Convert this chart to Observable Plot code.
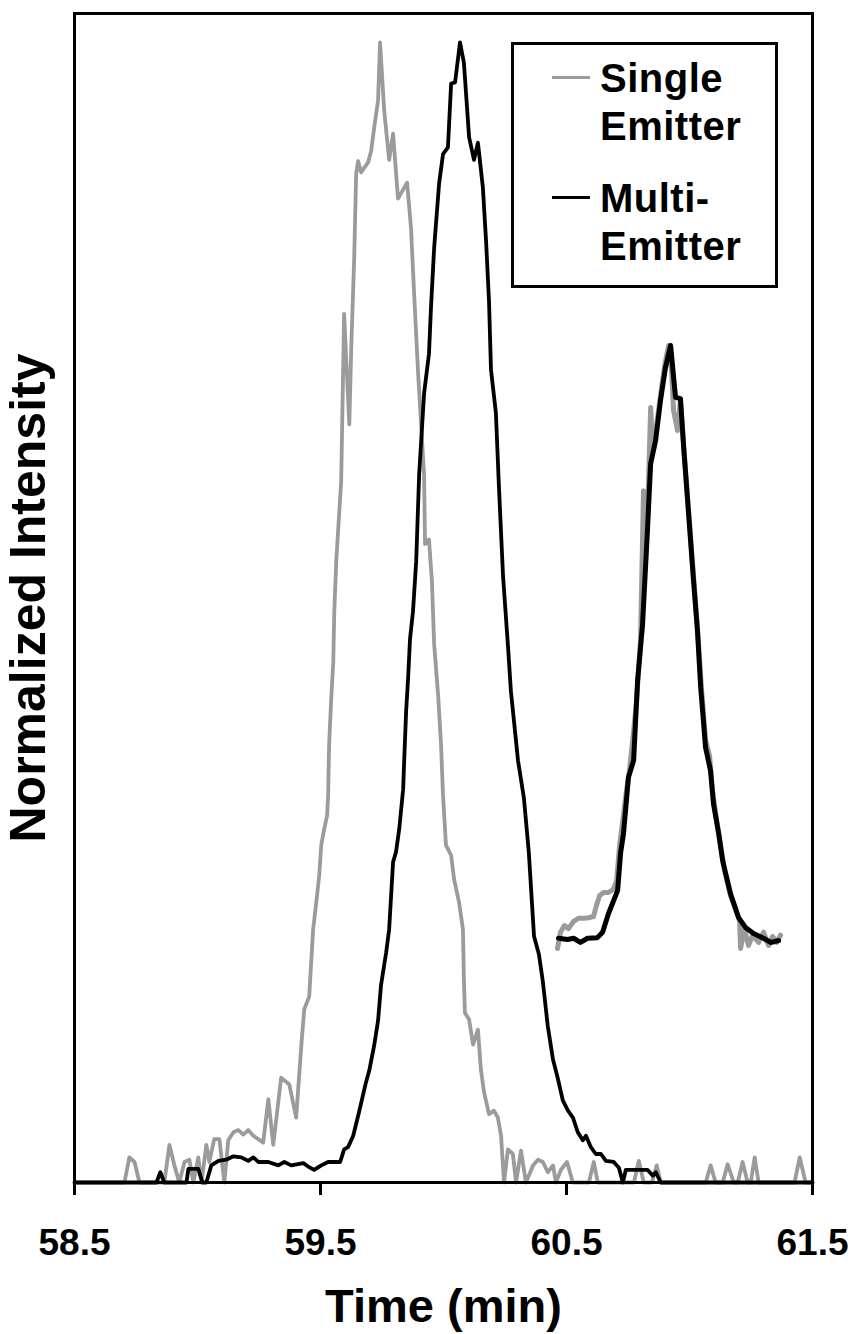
<!DOCTYPE html>
<html>
<head>
<meta charset="utf-8">
<script src="https://cdn.jsdelivr.net/npm/d3@7"></script>
<script src="https://cdn.jsdelivr.net/npm/@observablehq/plot@0.6"></script>
<style>
  body { margin: 0; background: #fff; }
  #chart {
    position: relative; width: 855px; height: 1334px;
    font-family: "Liberation Sans", Arial, sans-serif; font-weight: bold; color: #000;
  }
  #chart svg { position: absolute; }
  #legend {
    position: absolute; left: 511px; top: 42px; width: 261px; height: 240px;
    border: 3px solid #000; background: #fff;
  }
  .entry { position: absolute; left: 38px; display: flex; align-items: flex-start; }
  .swatch { width: 38px; height: 3px; margin-top: 22px; flex: none; }
  .entry-text { margin-left: 10px; font-size: 40px; line-height: 48px; letter-spacing: 0.5px; }
</style>
</head>
<body>
<div id="chart"></div>
<script>
// Chromatogram time (min) and normalized intensity for each ion source
const singleEmitter = [
  [58.500,0],[58.703,0],[58.723,0.022],[58.744,0.018],[58.764,0],[58.865,0],[58.886,0.033],
  [58.906,0.015],[58.926,0],[58.947,0.018],[58.967,0.020],[58.983,0],[59.003,0.022],[59.016,0],
  [59.036,0.033],[59.048,0.018],[59.068,0.038],[59.089,0.038],[59.109,0],[59.125,0.037],
  [59.146,0.044],[59.166,0.046],[59.186,0.042],[59.206,0.046],[59.227,0.041],[59.247,0.038],
  [59.267,0.035],[59.288,0.073],[59.308,0.033],[59.340,0.092],[59.373,0.086],[59.401,0.057],
  [59.422,0.120],[59.434,0.152],[59.454,0.163],[59.470,0.222],[59.483,0.246],[59.495,0.270],
  [59.503,0.296],[59.515,0.310],[59.527,0.322],[59.531,0.340],[59.535,0.384],[59.543,0.422],
  [59.552,0.457],[59.556,0.501],[59.564,0.545],[59.584,0.615],[59.596,0.762],[59.617,0.665],
  [59.625,0.732],[59.637,0.811],[59.645,0.885],[59.653,0.896],[59.665,0.886],[59.694,0.895],
  [59.706,0.905],[59.718,0.925],[59.734,0.949],[59.742,1.000],[59.759,0.940],[59.779,0.897],
  [59.795,0.920],[59.815,0.863],[59.852,0.877],[59.868,0.837],[59.880,0.782],[59.897,0.709],
  [59.909,0.665],[59.921,0.621],[59.925,0.560],[59.941,0.564],[59.953,0.527],[59.962,0.472],
  [59.978,0.428],[59.990,0.384],[59.998,0.340],[60.010,0.296],[60.031,0.287],[60.043,0.266],
  [60.063,0.246],[60.079,0.222],[60.083,0.178],[60.087,0.149],[60.104,0.143],[60.120,0.121],
  [60.132,0.129],[60.140,0.134],[60.152,0.099],[60.165,0.079],[60.185,0.060],[60.205,0.063],
  [60.221,0.057],[60.234,0.041],[60.246,0],[60.262,0.029],[60.282,0.025],[60.295,0],
  [60.315,0.028],[60.335,0],[60.364,0.015],[60.384,0.020],[60.404,0.018],[60.424,0.009],
  [60.445,0.015],[60.457,0],[60.477,0.011],[60.502,0.018],[60.526,0],[60.591,0],[60.611,0.018],
  [60.627,0],[60.774,0],[60.794,0.019],[60.814,0],[60.847,0],[60.867,0.015],[60.883,0],
  [61.066,0],[61.086,0.015],[61.106,0],[61.135,0],[61.155,0.016],[61.180,0],[61.196,0],
  [61.216,0.018],[61.236,0],[61.249,0],[61.265,0.022],[61.281,0],[61.427,0],[61.448,0.022],
  [61.472,0],[61.500,0]
];

const multiEmitter = [
  [58.500,0],[58.833,0],[58.849,0.009],[58.865,0],[58.955,0],[58.963,0.012],[59.003,0.012],
  [59.020,0],[59.036,0],[59.056,0.015],[59.085,0.019],[59.117,0.020],[59.146,0.023],
  [59.178,0.022],[59.206,0.019],[59.227,0.022],[59.247,0.018],[59.288,0.018],[59.328,0.015],
  [59.353,0.018],[59.381,0.015],[59.430,0.017],[59.450,0.014],[59.474,0.011],[59.503,0.015],
  [59.531,0.018],[59.580,0.018],[59.596,0.029],[59.612,0.031],[59.633,0.041],[59.657,0.062],
  [59.685,0.088],[59.698,0.098],[59.718,0.120],[59.734,0.142],[59.746,0.173],[59.767,0.202],
  [59.779,0.222],[59.795,0.281],[59.807,0.290],[59.820,0.310],[59.836,0.345],[59.840,0.369],
  [59.848,0.413],[59.856,0.442],[59.864,0.477],[59.876,0.501],[59.889,0.545],[59.901,0.621],
  [59.921,0.692],[59.941,0.727],[59.949,0.767],[59.962,0.820],[59.982,0.876],[59.998,0.902],
  [60.018,0.908],[60.031,0.964],[60.047,0.965],[60.067,1.000],[60.083,0.982],[60.104,0.917],
  [60.124,0.897],[60.140,0.912],[60.160,0.873],[60.173,0.826],[60.185,0.773],[60.193,0.713],
  [60.213,0.675],[60.225,0.612],[60.242,0.532],[60.262,0.471],[60.274,0.431],[60.303,0.370],
  [60.327,0.337],[60.347,0.289],[60.368,0.216],[60.388,0.200],[60.404,0.176],[60.424,0.137],
  [60.445,0.108],[60.465,0.091],[60.485,0.072],[60.506,0.063],[60.526,0.057],[60.546,0.044],
  [60.566,0.037],[60.579,0.041],[60.599,0.031],[60.619,0.025],[60.640,0.025],[60.660,0.019],
  [60.692,0.018],[60.713,0.013],[60.729,0],[60.741,0.011],[60.774,0.011],[60.830,0.011],
  [60.851,0.006],[60.863,0.009],[60.883,0],[61.500,0]
];

// Inset: both peaks aligned on a common relative time (min) and normalized to their maxima
const insetSingle = [
  [0.000,0],[0.012,0.027],[0.028,0.038],[0.045,0.033],[0.065,0.045],[0.085,0.050],[0.106,0.050],
  [0.126,0.051],[0.146,0.053],[0.158,0.071],[0.171,0.088],[0.187,0.093],[0.207,0.093],
  [0.227,0.098],[0.240,0.113],[0.252,0.171],[0.264,0.209],[0.280,0.262],[0.292,0.295],
  [0.305,0.345],[0.321,0.411],[0.337,0.511],[0.349,0.759],[0.357,0.643],[0.365,0.710],
  [0.378,0.897],[0.386,0.834],[0.402,0.867],[0.418,0.917],[0.435,0.967],[0.451,1.000],
  [0.463,0.958],[0.471,0.892],[0.487,0.859],[0.499,0.909],[0.512,0.834],[0.532,0.726],
  [0.552,0.618],[0.568,0.531],[0.585,0.428],[0.601,0.345],[0.617,0.320],[0.629,0.262],
  [0.646,0.212],[0.662,0.171],[0.678,0.129],[0.702,0.088],[0.727,0.060],[0.739,0.046],
  [0.743,0],[0.759,0.033],[0.775,0.005],[0.792,0.022],[0.816,0.010],[0.836,0.027],
  [0.857,0.005],[0.873,0.020],[0.889,0.010],[0.905,0.022]
];

const insetMulti = [
  [0.004,0.017],[0.041,0.015],[0.065,0.017],[0.093,0.010],[0.122,0.017],[0.162,0.018],
  [0.183,0.027],[0.207,0.058],[0.244,0.096],[0.256,0.158],[0.268,0.191],[0.288,0.284],
  [0.309,0.312],[0.325,0.444],[0.345,0.536],[0.365,0.693],[0.378,0.804],[0.398,0.842],
  [0.418,0.909],[0.438,0.963],[0.459,1.000],[0.479,0.914],[0.499,0.912],[0.512,0.831],
  [0.532,0.721],[0.552,0.610],[0.568,0.527],[0.581,0.433],[0.601,0.333],[0.621,0.295],
  [0.633,0.240],[0.654,0.191],[0.670,0.146],[0.702,0.091],[0.735,0.051],[0.763,0.035],
  [0.796,0.025],[0.836,0.017],[0.865,0.010],[0.897,0.013]
];

const xTicks = [58.5, 59.5, 60.5, 61.5];
const xLabel = "Time (min)";
const yLabel = "Normalized Intensity";
const seriesNames = [["Single", "Emitter"], ["Multi-", "Emitter"]];

const SINGLE_COLOR = "#9b9b9b";
const MULTI_COLOR = "#000000";
const seriesColors = [SINGLE_COLOR, MULTI_COLOR];

const toRows = pairs => pairs.map(([t, v]) => ({t, v}));
const FONT = '"Liberation Sans", Arial, sans-serif';

const main = Plot.plot({
  width: 855,
  height: 1334,
  marginTop: 13,
  marginRight: 43,
  marginBottom: 152,
  marginLeft: 74,
  style: {fontFamily: FONT, fontWeight: "bold", color: "#000", background: "transparent"},
  x: {domain: [58.5, 61.5]},
  y: {domain: [0, 1.0254], axis: null},
  marks: [
    Plot.line(toRows(singleEmitter), {x: "t", y: "v", stroke: SINGLE_COLOR, strokeWidth: 3.8}),
    Plot.line(toRows(multiEmitter), {x: "t", y: "v", stroke: MULTI_COLOR, strokeWidth: 3.8}),
    Plot.frame({stroke: "#000", strokeWidth: 3}),
    Plot.axisX(xTicks, {
      tickSize: 13, tickPadding: 33, fontSize: 37, strokeWidth: 3,
      tickFormat: d => d.toFixed(1), label: null
    }),
    Plot.text([xLabel], {frameAnchor: "bottom", lineAnchor: "top", dy: 106, fontSize: 47, fontWeight: "bold"}),
    Plot.text([yLabel], {frameAnchor: "left", textAnchor: "middle", lineAnchor: "middle",
      rotate: -90, dx: -46, fontSize: 50, fontWeight: "bold"})
  ]
});

const inset = Plot.plot({
  width: 231,
  height: 611,
  margin: 4,
  style: {background: "transparent"},
  x: {domain: [0, 0.905], axis: null},
  y: {domain: [0, 1], axis: null},
  marks: [
    Plot.line(toRows(insetSingle), {x: "t", y: "v", stroke: SINGLE_COLOR, strokeWidth: 5}),
    Plot.line(toRows(insetMulti), {x: "t", y: "v", stroke: MULTI_COLOR, strokeWidth: 5})
  ]
});

const chart = document.getElementById("chart");
main.style.left = "0px";
main.style.top = "0px";
inset.style.left = "553px";
inset.style.top = "341px";
chart.appendChild(main);
chart.appendChild(inset);

// Legend box drawn over the plot area
const legend = document.createElement("div");
legend.id = "legend";
const entryTops = [9, 129];
seriesNames.forEach((lines, i) => {
  const entry = document.createElement("div");
  entry.className = "entry";
  entry.style.top = entryTops[i] + "px";
  const sw = document.createElement("span");
  sw.className = "swatch";
  sw.style.background = seriesColors[i];
  const txt = document.createElement("div");
  txt.className = "entry-text";
  txt.innerHTML = lines.join("<br>");
  entry.appendChild(sw);
  entry.appendChild(txt);
  legend.appendChild(entry);
});
chart.appendChild(legend);
</script>
</body>
</html>
